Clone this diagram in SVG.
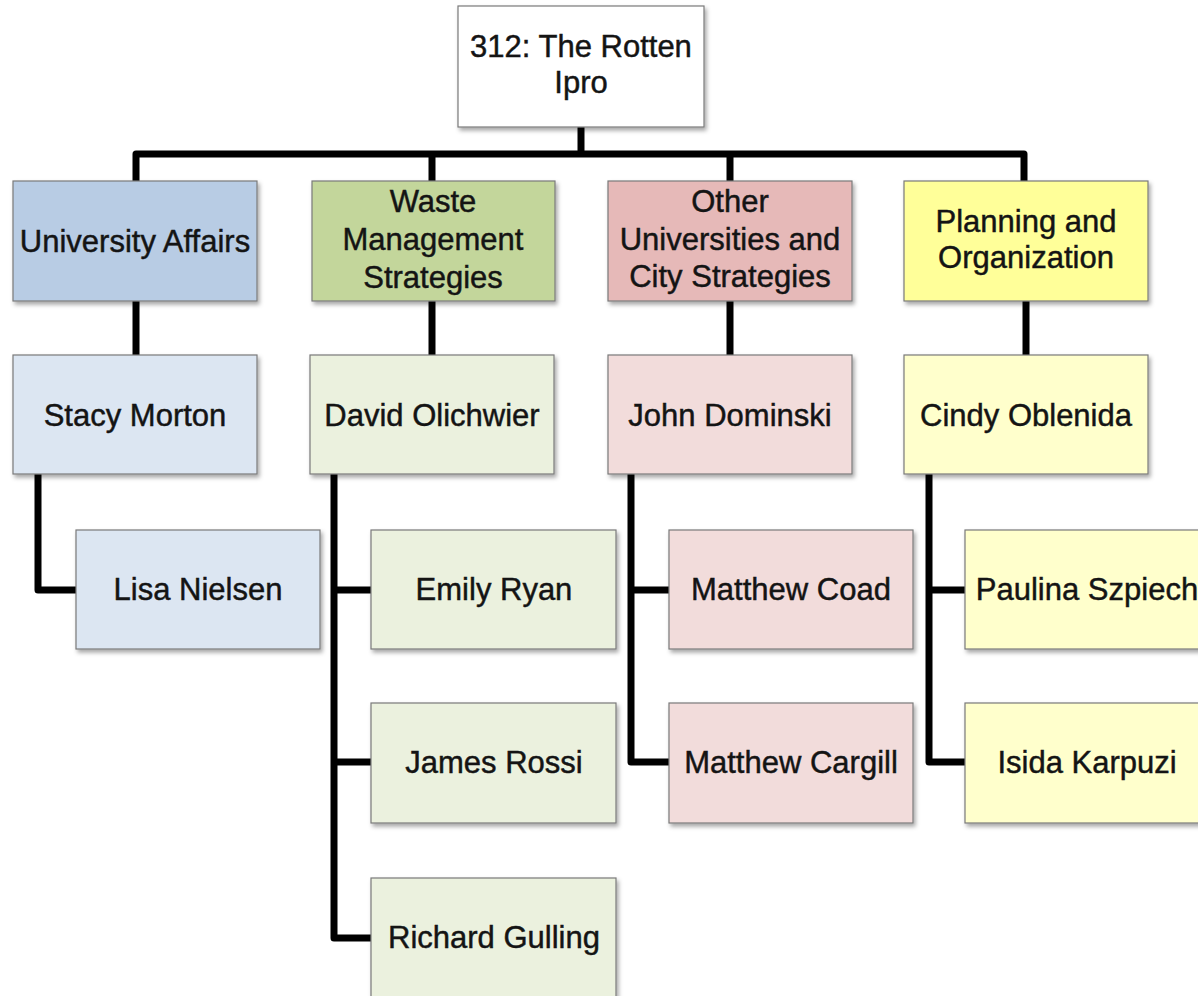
<svg xmlns="http://www.w3.org/2000/svg" width="1198" height="996" viewBox="0 0 1198 996">
<defs>
<filter id="sh" x="-10%" y="-10%" width="125%" height="130%">
<feDropShadow dx="2" dy="3" stdDeviation="2" flood-color="#000" flood-opacity="0.35"/>
</filter>
<style>
.box{stroke:#7a7a7a;stroke-width:1.2;filter:url(#sh)}
.t{font-family:"Liberation Sans",Arial,sans-serif;font-size:31px;fill:#141414;stroke:#141414;stroke-width:0.45;text-anchor:middle}
.c{fill:none;stroke:#000;stroke-width:7;stroke-linejoin:round;stroke-linecap:butt}
.top{fill:#ffffff}
.b1{fill:#b8cce4}.g1{fill:#c3d69b}.p1{fill:#e6b9b8}.y1{fill:#ffff99}
.b2{fill:#dce6f2}.g2{fill:#ebf1de}.p2{fill:#f2dcdb}.y2{fill:#ffffcc}
</style>
</defs>
<rect width="1198" height="996" fill="#fff"/>
<g id="connectors">
<path class="c" d="M581 127 V154"/>
<path class="c" d="M136 181 V154 H1024 V181"/>
<path class="c" d="M432 154 V181"/>
<path class="c" d="M730 154 V181"/>
<path class="c" d="M136 301 V355"/>
<path class="c" d="M432 301 V355"/>
<path class="c" d="M730 301 V355"/>
<path class="c" d="M1026 301 V355"/>
<path class="c" d="M38 474 V590 H76"/>
<path class="c" d="M334 474 V938 H371"/>
<path class="c" d="M334 590 H371"/>
<path class="c" d="M334 762 H371"/>
<path class="c" d="M631 474 V762 H669"/>
<path class="c" d="M631 590 H669"/>
<path class="c" d="M929 474 V762 H965"/>
<path class="c" d="M929 590 H965"/>
</g>
<g id="n-root"><rect class="box top" x="458" y="6" width="246" height="121"/><text class="t" x="581" y="57">312: The Rotten</text><text class="t" x="581" y="93">Ipro</text></g>
<g id="n-univ"><rect class="box b1" x="13" y="181" width="244" height="120"/><text class="t" x="135" y="252">University Affairs</text></g>
<g id="n-waste"><rect class="box g1" x="312" y="181" width="243" height="120"/><text class="t" x="433" y="212">Waste</text><text class="t" x="433" y="250">Management</text><text class="t" x="433" y="288">Strategies</text></g>
<g id="n-other"><rect class="box p1" x="608" y="181" width="244" height="120"/><text class="t" x="730" y="212">Other</text><text class="t" x="730" y="250">Universities and</text><text class="t" x="730" y="287">City Strategies</text></g>
<g id="n-plan"><rect class="box y1" x="904" y="181" width="244" height="120"/><text class="t" x="1026" y="232">Planning and</text><text class="t" x="1026" y="268">Organization</text></g>
<g id="n-stacy"><rect class="box b2" x="13" y="355" width="244" height="119"/><text class="t" x="135" y="426">Stacy Morton</text></g>
<g id="n-david"><rect class="box g2" x="310" y="355" width="244" height="119"/><text class="t" x="432" y="426">David Olichwier</text></g>
<g id="n-john"><rect class="box p2" x="608" y="355" width="244" height="119"/><text class="t" x="730" y="426">John Dominski</text></g>
<g id="n-cindy"><rect class="box y2" x="904" y="355" width="244" height="119"/><text class="t" x="1026" y="426">Cindy Oblenida</text></g>
<g id="n-lisa"><rect class="box b2" x="76" y="530" width="244" height="119"/><text class="t" x="198" y="600">Lisa Nielsen</text></g>
<g id="n-emily"><rect class="box g2" x="371" y="530" width="245" height="119"/><text class="t" x="494" y="600">Emily Ryan</text></g>
<g id="n-james"><rect class="box g2" x="371" y="703" width="245" height="120"/><text class="t" x="494" y="773">James Rossi</text></g>
<g id="n-richard"><rect class="box g2" x="371" y="878" width="245" height="130"/><text class="t" x="494" y="948">Richard Gulling</text></g>
<g id="n-coad"><rect class="box p2" x="669" y="530" width="244" height="119"/><text class="t" x="791" y="600">Matthew Coad</text></g>
<g id="n-cargill"><rect class="box p2" x="669" y="703" width="244" height="120"/><text class="t" x="791" y="773">Matthew Cargill</text></g>
<g id="n-paulina"><rect class="box y2" x="965" y="530" width="244" height="119"/><text class="t" x="1087" y="600">Paulina Szpiech</text></g>
<g id="n-isida"><rect class="box y2" x="965" y="703" width="244" height="120"/><text class="t" x="1087" y="773">Isida Karpuzi</text></g>
</svg>
